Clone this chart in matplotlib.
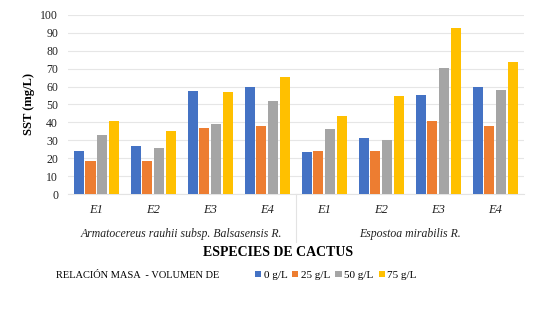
import matplotlib
matplotlib.use("Agg")
import matplotlib.pyplot as plt
import numpy as np
from matplotlib.transforms import blended_transform_factory

categories = ["E1", "E2", "E3", "E4", "E1", "E2", "E3", "E4"]
groups = ["Armatocereus rauhii subsp. Balsasensis R.", "Espostoa mirabilis R."]
series_names = ["0 g/L", "25 g/L", "50 g/L", "75 g/L"]
s0 = [24, 27, 57.5, 60, 23.6, 31.2, 55.5, 59.5]
s25 = [18.2, 18.6, 36.8, 37.8, 24.3, 24.3, 40.7, 37.8]
s50 = [33, 25.6, 39.3, 51.7, 36.3, 30.4, 70.6, 58.3]
s75 = [40.7, 35, 57.2, 65.2, 43.6, 55, 92.5, 73.8]
yticks = list(range(0, 101, 10))

colors = ["#4472C4", "#ED7D31", "#A5A5A5", "#FFC000"]
serif = ["Liberation Serif", "DejaVu Serif"]

fig = plt.figure(figsize=(5.56, 3.10), dpi=100)
ax = fig.add_axes([0.122, 0.374, 0.82, 0.578])

x = np.arange(len(categories))
w = 0.205
data = [s0, s25, s50, s75]
for i, (vals, c, n) in enumerate(zip(data, colors, series_names)):
    ax.bar(x + (i - 1.5) * w, vals, width=w * 0.86, color=c, label=n, zorder=3)

ax.set_xlim(-0.5, len(categories) - 0.5)
ax.set_ylim(0, 100)
ax.set_yticks(yticks)
ax.set_yticklabels([str(t) for t in yticks], fontfamily=serif, fontsize=8.5, color="#222222")
ax.yaxis.grid(True, color="#E6E6E6", linewidth=0.8, zorder=0)
ax.tick_params(axis="y", length=0, pad=7)
ax.tick_params(axis="x", length=0)
for s in ["top", "right", "left"]:
    ax.spines[s].set_visible(False)
ax.spines["bottom"].set_color("#E3E3E3")
ax.set_xticks(x)
ax.set_xticklabels(categories, fontfamily=serif, fontstyle="italic", fontsize=9, color="#222222")
ax.tick_params(axis="x", pad=7)

ax.set_ylabel("SST (mg/L)", fontfamily=serif, fontweight="bold", fontsize=9, labelpad=4)

trans = blended_transform_factory(ax.transData, ax.transAxes)
ax.text(1.5, -0.225, groups[0], transform=trans, ha="center", va="center",
        fontfamily=serif, fontstyle="italic", fontsize=8.5, color="#222222")
ax.text(5.5, -0.225, groups[1], transform=trans, ha="center", va="center",
        fontfamily=serif, fontstyle="italic", fontsize=8.5, color="#222222")
ax.plot([3.5, 3.5], [0, -0.27], transform=trans, color="#E3E3E3", lw=0.8, clip_on=False)

fig.text(0.5, 0.187, "ESPECIES DE CACTUS", ha="center", va="center",
         fontfamily=serif, fontweight="bold", fontsize=10)

fig.text(0.1, 0.112, "RELACIÓN MASA  - VOLUMEN DE", ha="left", va="center",
         fontfamily=serif, fontsize=7.5)
handles, labels = ax.get_legend_handles_labels()
leg = fig.legend(handles, labels, loc="center left", bbox_to_anchor=(0.44, 0.112), ncol=4,
                 frameon=False, handlelength=0.55, handleheight=0.55, handletextpad=0.25,
                 columnspacing=0.45, prop={"family": serif, "size": 8})

fig.savefig("out.png", dpi=100, facecolor="white")
